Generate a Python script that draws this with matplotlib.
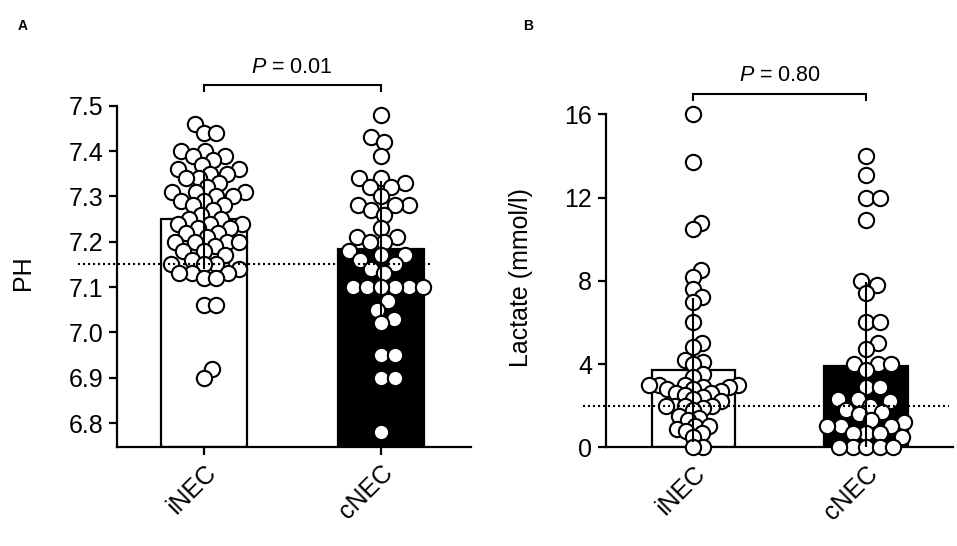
import numpy as np
import matplotlib
matplotlib.use('Agg')
import matplotlib.pyplot as plt

plt.rcParams['font.family'] = ['Liberation Sans', 'DejaVu Sans']
plt.rcParams['mathtext.fontset'] = 'custom'
plt.rcParams['mathtext.it'] = 'Liberation Sans:italic'
plt.rcParams['mathtext.rm'] = 'Liberation Sans'

groups = ['iNEC', 'cNEC']

# panel A - pH
ph_inec = [7.46, 7.44, 7.44, 7.40, 7.40, 7.39, 7.39, 7.38, 7.37, 7.36, 7.36, 7.35,
           7.35, 7.34, 7.34, 7.33, 7.32, 7.31, 7.31, 7.31, 7.30, 7.30, 7.29, 7.29,
           7.28, 7.28, 7.27, 7.26, 7.25, 7.25, 7.24, 7.24, 7.24, 7.23, 7.23, 7.22,
           7.22, 7.21, 7.20, 7.20, 7.20, 7.20, 7.19, 7.18, 7.18, 7.17, 7.16, 7.15,
           7.15, 7.15, 7.14, 7.13, 7.13, 7.13, 7.12, 7.12, 7.06, 7.06, 6.92, 6.90]
ph_cnec = [7.48, 7.43, 7.42, 7.39, 7.34, 7.34, 7.33, 7.32, 7.32, 7.30, 7.28, 7.28,
           7.28, 7.27, 7.26, 7.23, 7.21, 7.21, 7.20, 7.20, 7.18, 7.17, 7.17, 7.16,
           7.15, 7.14, 7.13, 7.10, 7.10, 7.10, 7.10, 7.10, 7.10, 7.07, 7.05, 7.03,
           7.02, 6.95, 6.95, 6.90, 6.90, 6.78]
ph_mean = [7.25, 7.183]
ph_sd = [0.11, 0.15]
ph_cutoff = 7.15
ph_ptext = ' = 0.01'

# panel B - lactate
lac_inec = [16.0, 13.7, 10.8, 10.5, 8.5, 8.2, 7.6, 7.2, 7.0, 6.0, 5.0, 4.8, 4.2,
            4.1, 4.0, 3.5, 3.4, 3.0, 3.0, 3.0, 3.0, 2.9, 2.9, 2.8, 2.8, 2.7, 2.6,
            2.6, 2.5, 2.4, 2.3, 2.2, 2.0, 2.0, 2.0, 2.0, 1.9, 1.8, 1.5, 1.4, 1.3,
            1.0, 1.0, 0.9, 0.8, 0.7, 0.5, 0.0, 0.0]
lac_cnec = [14.0, 13.1, 12.0, 12.0, 10.9, 8.0, 7.8, 7.4, 6.0, 6.0, 5.0, 4.7, 4.0,
            4.0, 4.0, 3.7, 2.9, 2.9, 2.3, 2.3, 2.2, 2.0, 1.8, 1.7, 1.6, 1.3, 1.2,
            1.0, 1.0, 1.0, 0.7, 0.7, 0.7, 0.5, 0.0, 0.0, 0.0, 0.0, 0.0]
lac_mean = [3.71, 3.9]
lac_sd = [3.46, 4.05]
lac_cutoff = 2.0
lac_ptext = ' = 0.80'


def swarm(ax, xc, vals, diam):
    # simple beeswarm in pixel space, points placed from lowest to highest
    pts = ax.transData.transform(np.column_stack([np.full(len(vals), xc), vals]))
    order = np.argsort(vals)
    placed = []
    xs = np.zeros(len(vals))
    for i in order:
        y = pts[i, 1]
        cands = [0.0]
        for (px, py) in placed:
            dy = abs(py - y)
            if dy < diam:
                dx = np.sqrt(diam ** 2 - dy ** 2)
                cands += [px + dx, px - dx]
        cands = sorted(cands, key=abs)
        for c in cands:
            ok = True
            for (px, py) in placed:
                if (px - c) ** 2 + (py - y) ** 2 < diam ** 2 - 1e-6:
                    ok = False
                    break
            if ok:
                break
        placed.append((c, y))
        xs[i] = c
    out = ax.transData.inverted().transform(np.column_stack([pts[:, 0] + xs, pts[:, 1]]))
    return out[:, 0]


def panel(ax, data, mean, sd, cutoff, ylim, yticks, yfmt, ylabel, ptext, br, xlim,
          dline, lblxy, diam):
    ax.set_xlim(xlim)
    ax.set_ylim(ylim)
    colors = ['white', 'black']
    for k in range(2):
        ax.bar(k, mean[k] - ylim[0], bottom=ylim[0], width=0.485, color=colors[k],
               edgecolor='black', linewidth=1.6, zorder=1)
    for k in range(2):
        xs = swarm(ax, k, data[k], diam[k])
        ax.plot(xs, data[k], 'o', ms=11, mfc='white', mec='black', mew=1.5,
                zorder=3, clip_on=False)
        ax.plot([k, k], [mean[k] - sd[k], mean[k] + sd[k]], color='black', lw=1.5,
                zorder=4, solid_capstyle='butt')
    ax.plot(dline, [cutoff, cutoff], color='black', lw=1.5, dashes=(1, 1.4),
            zorder=5, clip_on=False)
    # significance bracket
    ax.plot([0, 0, 1, 1], [br[1], br[0], br[0], br[1]], color='black', lw=1.5,
            clip_on=False, solid_joinstyle='miter')
    ax.text(0.5, br[2], r'$\it{P}$' + ptext, ha='center', va='center', fontsize=15.5)
    ax.spines['top'].set_visible(False)
    ax.spines['right'].set_visible(False)
    for s in ['left', 'bottom']:
        ax.spines[s].set_linewidth(1.6)
    ax.spines['left'].set_bounds(ylim[0], yticks[-1])
    ax.set_yticks(yticks)
    ax.set_yticklabels([yfmt % t for t in yticks])
    ax.set_xticks([0, 1])
    ax.set_xticklabels(groups, rotation=45, ha='right', rotation_mode='anchor')
    ax.tick_params(axis='both', labelsize=18, width=1.6, length=6, pad=4)
    ax.set_ylabel(ylabel, fontsize=18)
    ax.yaxis.set_label_coords(lblxy[0], lblxy[1])


fig = plt.figure(figsize=(9.57, 5.46), dpi=100)
axA = fig.add_axes([0.1223, 0.1819, 0.3699, 0.6245])
axB = fig.add_axes([0.6332, 0.1808, 0.3626, 0.6099])

panel(axA, [ph_inec, ph_cnec], ph_mean, ph_sd, ph_cutoff, (6.748, 7.5),
      [6.8, 6.9, 7.0, 7.1, 7.2, 7.3, 7.4, 7.5], '%.1f', 'PH', ph_ptext,
      (7.546, 7.533, 7.584), (-0.489, 1.51), [-0.71, 1.28], (-0.232, 0.51), (12.5, 14))
panel(axB, [lac_inec, lac_cnec], lac_mean, lac_sd, lac_cutoff, (0, 16),
      [0, 4, 8, 12, 16], '%d', 'Lactate (mmol/l)', lac_ptext,
      (16.98, 16.69, 17.84), (-0.507, 1.504), [-0.64, 1.48], (-0.21, 0.51), (9.5, 13.5))

fig.text(0.024, 0.952, 'A', fontsize=10, fontweight='bold', ha='center', va='center')
fig.text(0.552, 0.952, 'B', fontsize=10, fontweight='bold', ha='center', va='center')

fig.savefig('out.png', dpi=100)
